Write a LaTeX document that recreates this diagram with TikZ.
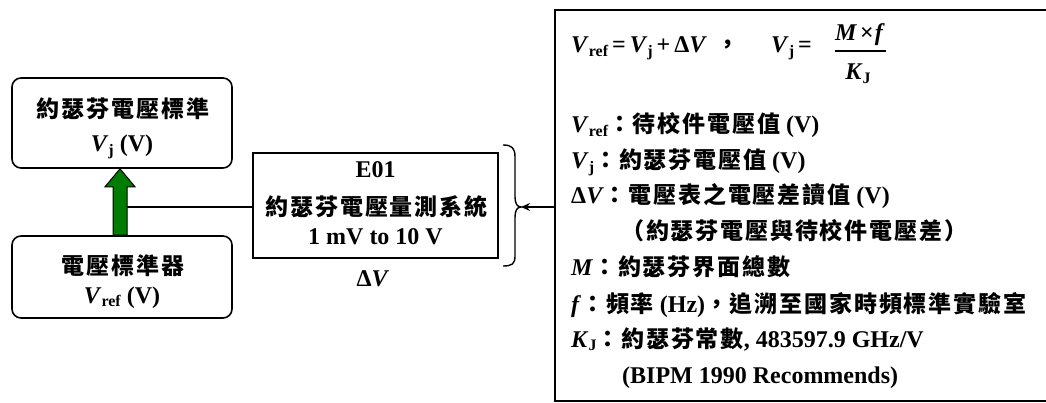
\documentclass[tikz,border=0pt]{standalone}
\usepackage{fontspec}
\setmainfont{Liberation Serif}
\newfontfamily\cjk{Noto Sans CJK TC}[LetterSpace=8]
\usetikzlibrary{arrows.meta}
\newcommand\cj[1]{{\cjk\fontsize{23}{28}\selectfont #1}}
\newcommand\sbs[1]{\raisebox{-0.35ex}{\fontsize{16}{16}\selectfont #1}}
\newcommand\vv{\textit{V}}
\definecolor{arrgreen}{RGB}{0,125,0}
\begin{document}
\begin{tikzpicture}[x=1pt,y=-1pt,
  every node/.style={font=\bfseries\fontsize{24}{28}\selectfont, inner sep=0pt},
  rbox/.style={draw, line width=1.6pt, rounded corners=9pt},
  sbox/.style={draw, line width=1.6pt},
  txt/.style={anchor=base west},
  ctxt/.style={anchor=base},
  conn/.style={line width=1.4pt},
]
\useasboundingbox (0,0) rectangle (1046,403);

% left boxes
\node[rbox, minimum width=220pt, minimum height=90pt] (js) at (122,123) {};
\node[ctxt] (jst) at (123,118) {\cj{約瑟芬電壓標準}};
\node[ctxt] (jsv) at (122,152) {\vv\sbs{j} (V)};

\node[rbox, minimum width=220pt, minimum height=82pt] (std) at (122,277) {};
\node[ctxt] (stdt) at (123,275) {\cj{電壓標準器}};
\node[ctxt] (stdv) at (122,303) {\vv\sbs{ref} (V)};

% green arrow
\draw[line width=1pt, fill=arrgreen]
  ([xshift=-9pt]std.north) -- ([xshift=-9pt,yshift=-18pt]js.south)
  -- ([xshift=-17pt,yshift=-18pt]js.south) -- ([xshift=-2pt]js.south)
  -- ([xshift=13pt,yshift=-18pt]js.south) -- ([xshift=5pt,yshift=-18pt]js.south)
  -- ([xshift=5pt]std.north) -- cycle;
\coordinate (shaft) at (127,207);

% E01 box
\node[sbox, minimum width=245pt, minimum height=105pt] (e01) at (375.5,205.5) {};
\node[ctxt] (e01a) at (375.5,178) {E01};
\node[ctxt] (e01b) at (376.5,216) {\cj{約瑟芬電壓量測系統}};
\node[ctxt] (e01c) at (375.5,245) {1 mV to 10 V};
\node[ctxt] (dv) at (373,287) {Δ\vv};

\draw[conn] (shaft) -- (shaft -| e01.west);

% brace
\coordinate (bt) at (503,145);
\coordinate (bm) at (521,207);
\coordinate (bb) at (503,266);
\draw[conn] (bt) .. controls (512,145) and (515,148) .. (515,157)
  -- (515,197) .. controls (515,203) and (517,207) .. (bm)
  .. controls (517,207) and (515,211) .. (515,217)
  -- (515,256) .. controls (515,264) and (512,266) .. (bb);

% right box
\coordinate (rtl) at (555,10);
\coordinate (rbl) at (555,401);
\coordinate (rleft) at (555,207);
\draw[line width=1.6pt] (1050,10) -- (rtl) -- (rbl) -- (1050,401);
\draw[conn, -{Stealth[length=9pt,width=8pt]}] (rleft) -- (bm);

% formula
\node[txt] (f1) at (571,53) {\vv\sbs{ref}\hspace{4pt}=\hspace{4pt}\vv\sbs{j}\hspace{4pt}+\hspace{4pt}Δ\vv};
\node[ctxt] (fc) at (728,53) {\cj{，}};
\node[txt] (f2) at (771,53) {\vv\sbs{j}\hspace{4pt}=};
\node[ctxt] (fn) at (860,41) {\textit{M}\hspace{3pt}×\hspace{1pt}\textit{f}};
\node[ctxt] (fd) at (858,80) {\textit{K}\sbs{J}};
\draw[line width=1.3pt] (835,51) -- (886,51);

% legend lines
\node[txt] (l1) at (571,133) {\vv\sbs{ref}\cj{：待校件電壓值} (V)};
\node[txt] (l2) at (571,169) {\vv\sbs{j}\cj{：約瑟芬電壓值} (V)};
\node[txt] (l3) at (571,204) {Δ\vv\cj{：電壓表之電壓差讀值} (V)};
\node[txt] (l4) at (621,240) {\cj{（約瑟芬電壓與待校件電壓差）}};
\node[txt] (l5) at (571,276) {\textit{M}\cj{：約瑟芬界面總數}};
\node[txt] (l6) at (571,312) {\textit{f}\cj{：頻率} (Hz)\cj{，追溯至國家時頻標準實驗室}};
\node[txt] (l7) at (571,347) {\textit{K}\sbs{J}\cj{：約瑟芬常數}, 483597.9 GHz/V};
\node[txt] (l8) at (622,383) {(BIPM 1990 Recommends)};
\end{tikzpicture}
\end{document}
